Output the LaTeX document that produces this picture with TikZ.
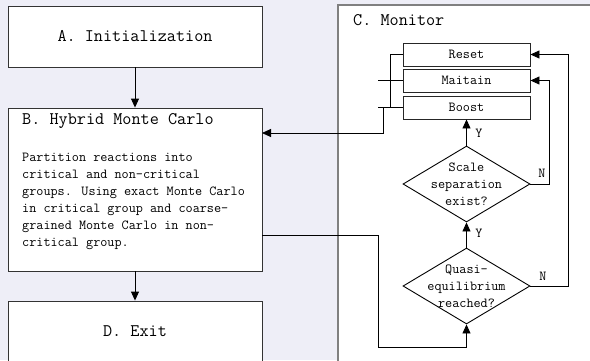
\documentclass[tikz,border=0pt]{standalone}
\usepackage{tikz}
\usetikzlibrary{arrows.meta}
\usetikzlibrary{shapes.geometric}
\definecolor{mback}{RGB}{238,238,247}
\definecolor{mgray}{RGB}{128,128,128}

\begin{document}
\begin{tikzpicture}[x=1pt, y=-1pt,
    bigtext/.style={font=\fontsize{17.7}{20}\ttfamily},
    smalltext/.style={font=\fontsize{13.8}{17}\ttfamily},
    box/.style={draw=black!80, line width=0.9pt, fill=white, minimum width=254pt, inner sep=0pt, bigtext},
    sbox/.style={draw=black!85, line width=0.9pt, fill=white, minimum width=127pt, minimum height=23pt, inner sep=0pt, smalltext},
    dec/.style={draw=black, line width=0.9pt, fill=white, diamond, minimum width=127pt, minimum height=76pt, inner sep=0pt},
    con/.style={line width=0.9pt},
    arr/.style={line width=0.9pt, -{Triangle[length=9pt, width=8pt]}}]
    \fill [mback] (0, 0) rectangle (590, 360);
    \useasboundingbox (0, 0) rectangle (590, 360);

    % left column
    \node [box, minimum height=61pt] (init) at (135, 36.5) {A. Initialization};
    \node [box, minimum height=163pt] (hmc) at (135, 189.5) {};
    \node [bigtext, anchor=west, inner sep=0pt] (hmctitle) at (22, 121) {B. Hybrid Monte Carlo};
    \node [smalltext, anchor=north west, align=left, inner sep=0pt] (hmcbody) at (22, 153) {Partition reactions into\\critical and non-critical\\groups. Using exact Monte Carlo\\in critical group and coarse-\\grained Monte Carlo in non-\\critical group.};
    \node [box, minimum height=61pt] (exit) at (135, 331.5) {D. Exit};

    \draw [arr] (init) -- (hmc);
    \draw [arr] (hmc) -- (exit);

    % monitor frame
    \draw [draw=mgray, line width=1.8pt, fill=white] (338, 5) rectangle (612, 380);
    \node [bigtext, anchor=west, inner sep=0pt] (montitle) at (353, 20) {C. Monitor};

    \node [sbox] (reset) at (466.5, 54.5) {Reset};
    \node [sbox] (maitain) at (466.5, 80.5) {Maitain};
    \node [sbox] (boost) at (466.5, 107.5) {Boost};

    \node [dec] (scale) at (466.5, 184) {};
    \node [smalltext, align=center, inner sep=0pt] (scaletext) at (scale) {Scale\\separation\\exist?};
    \node [dec] (quasi) at (466.5, 286) {};
    \node [smalltext, align=center, inner sep=0pt] (quasitext) at (quasi) {Quasi-\\equilibrium\\reached?};

    \draw [arr] (quasi) -- (scale);
    \draw [arr] (scale) -- (boost);
    \node [smalltext, inner sep=0pt] (ylow) at (479, 233) {Y};
    \node [smalltext, inner sep=0pt] (yup) at (479, 133) {Y};

    \coordinate (qr) at (568, 286);
    \coordinate (sr) at (549, 184);
    \draw [arr] (quasi.east) -- (qr) |- (reset.east);
    \draw [arr] (scale.east) -- (sr) |- (maitain.east);
    \node [smalltext, inner sep=0pt] (nlow) at (543, 276) {N};
    \node [smalltext, inner sep=0pt] (nup) at (542, 173) {N};

    % back to B
    \coordinate (rbus) at (390, 107.5);
    \coordinate (mstub) at (378, 80.5);
    \coordinate (bstub) at (378, 107.5);
    \coordinate (bus) at (383, 107.5);
    \coordinate (hmcin) at (262, 133);
    \draw [con] (reset.west) -| (rbus);
    \draw [con] (maitain.west) -- (mstub);
    \draw [con] (boost.west) -- (bstub);
    \draw [arr] (bus) |- (hmcin);

    % feedback into the check
    \coordinate (hmcout) at (262, 235);
    \coordinate (loop) at (378, 347);
    \draw [arr] (hmcout) -| (loop) -| (quasi.south);
\end{tikzpicture}
\end{document}
